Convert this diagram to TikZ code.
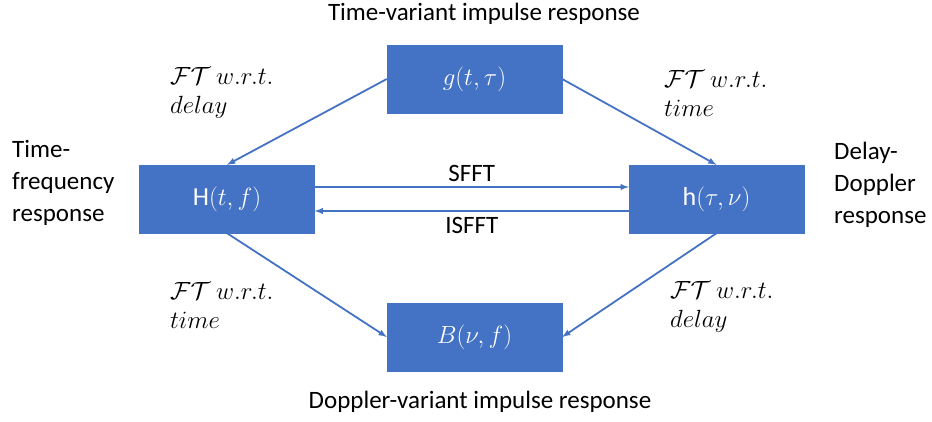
\documentclass[tikz,border=0pt]{standalone}
\usepackage{amsmath}
\usepackage{fontspec}
\setmainfont{Carlito}
\usetikzlibrary{arrows,positioning,calc}
\definecolor{boxblue}{RGB}{68,114,196}
\tikzstyle{block} = [rectangle, fill=boxblue, draw=boxblue, minimum width=175pt, minimum height=68pt, inner sep=0pt, text=white, font=\fontsize{26}{30}\selectfont]
\tikzstyle{line} = [boxblue, line width=1.8pt, -latex]
\tikzstyle{lbl} = [font=\fontsize{25}{30}\selectfont, inner sep=0pt, text=black]
\tikzstyle{side} = [font=\fontsize{25}{32}\selectfont, align=left, anchor=west, inner sep=0pt]
\tikzstyle{ftlbl} = [font=\fontsize{25}{29}\selectfont, align=left, anchor=west, inner sep=0pt]
\newcommand{\wrt}[1]{$\mathcal{FT}\ w.r.t.$\\$#1$}

\begin{document}
\begin{tikzpicture}[x=1pt,y=-1pt]
		\useasboundingbox (0,0) rectangle (932,421);
		% the four responses
		\node[block] (g) at (474.5,79) {$g(t,\tau)$};
		\node[block] (H) at (227,199) {H$(t,f)$};
		\node[block] (h) at (716.5,199) {h$(\tau,\nu)$};
		\node[block] (B) at (474.5,337) {$B(\nu,f)$};
		% transforms
		\draw[line] (g.west) -- (H.north);
		\draw[line] (g.east) -- (h.north);
		\draw[line] (H.south) -- (B.west);
		\draw[line] (h.south) -- (B.east);
		\draw[line] ([yshift=12pt]H.east) -- node[lbl,above=4pt] (sfft) {SFFT} ([yshift=12pt]h.west);
		\draw[line] ([yshift=-12pt]h.west) -- node[lbl,below=5pt] (isfft) {ISFFT} ([yshift=-12pt]H.west -| H.east);
		% labels
		\node[lbl] (gname) at (484,14) {Time-variant impulse response};
		\node[lbl] (Bname) at (480,402) {Doppler-variant impulse response};
		\node[side] (Hname) at (12,183) {Time-\\frequency\\response};
		\node[side] (hname) at (834,185) {Delay-\\Doppler\\response};
		\node[ftlbl] (ft1) at (170,93) {\wrt{delay}};
		\node[ftlbl] (ft2) at (664,93) {\wrt{time}};
		\node[ftlbl] (ft3) at (170,305) {\wrt{time}};
		\node[ftlbl] (ft4) at (670,307) {\wrt{delay}};
	\end{tikzpicture}
\end{document}
